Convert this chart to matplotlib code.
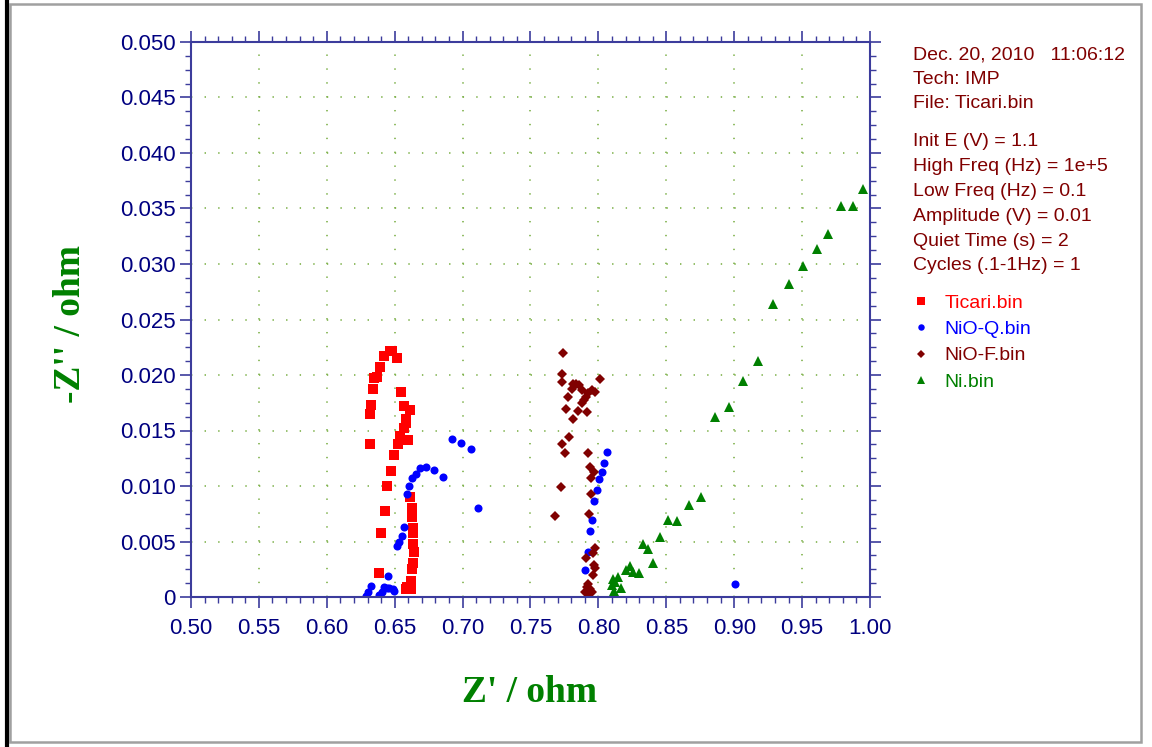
import matplotlib
matplotlib.use('Agg')
import matplotlib.pyplot as plt
from matplotlib.ticker import MultipleLocator, FuncFormatter
from matplotlib.patches import Rectangle
from matplotlib.lines import Line2D

# Ticari.bin (red squares)
ticari_x = [0.6465, 0.6480, 0.6517, 0.6419, 0.6390, 0.6367, 0.6348, 0.6338, 0.6328,
            0.6318, 0.6320, 0.6546, 0.6568, 0.6610, 0.6585, 0.6583, 0.6566, 0.6541,
            0.6522, 0.6600, 0.6495, 0.6471, 0.6446, 0.6615, 0.6625, 0.6625, 0.6625,
            0.6426, 0.6635, 0.6635, 0.6399, 0.6633, 0.6642, 0.6635, 0.6627, 0.6382,
            0.6618, 0.6591, 0.6613, 0.6583, 0.6620]
ticari_y = [0.02219, 0.02220, 0.02153, 0.02171, 0.02072, 0.01982, 0.01976, 0.01874, 0.01730,
            0.01651, 0.01376, 0.01850, 0.01723, 0.01682, 0.01601, 0.01570, 0.01525, 0.01453,
            0.01381, 0.01414, 0.01277, 0.01135, 0.00997, 0.00898, 0.00802, 0.00766, 0.00721,
            0.00777, 0.00622, 0.00577, 0.00579, 0.00475, 0.00403, 0.00304, 0.00250, 0.00219,
            0.00147, 0.00093, 0.00093, 0.00075, 0.00072]

# NiO-Q.bin (blue circles)
nioq_x = [0.6920, 0.6988, 0.7060, 0.6733, 0.6686, 0.6789, 0.6655, 0.6627, 0.6856,
          0.6608, 0.6591, 0.7113, 0.6568, 0.6551, 0.6534, 0.6519, 0.6451, 0.6323,
          0.6306, 0.6289, 0.6424, 0.6441, 0.6460, 0.6485, 0.6497, 0.6405, 0.6388,
          0.8063, 0.8039, 0.8024, 0.8007, 0.7990, 0.7970, 0.7951, 0.7936, 0.7921,
          0.7904, 0.9009]
nioq_y = [0.01423, 0.01390, 0.01330, 0.01174, 0.01159, 0.01144, 0.01108, 0.01069, 0.01084,
          0.01000, 0.00925, 0.00799, 0.00633, 0.00552, 0.00498, 0.00459, 0.00192, 0.00099,
          0.00048, 0.00012, 0.00093, 0.00078, 0.00084, 0.00070, 0.00054, 0.00048, 0.00018,
          0.01306, 0.01205, 0.01123, 0.01060, 0.00964, 0.00862, 0.00694, 0.00592, 0.00405,
          0.00241, 0.00114]

# NiO-F.bin (dark red diamonds)
niof_x = [0.7742, 0.7735, 0.7730, 0.7815, 0.7835, 0.7855, 0.7803, 0.7877, 0.8014,
          0.7975, 0.7951, 0.7926, 0.7909, 0.7895, 0.7880, 0.7778, 0.7761, 0.7852,
          0.7918, 0.7811, 0.7786, 0.7730, 0.7754, 0.7926, 0.7938, 0.7968, 0.7946,
          0.7722, 0.7948, 0.7680, 0.7931, 0.7975, 0.7962, 0.7909, 0.7968, 0.7975,
          0.7962, 0.7926, 0.7914, 0.7938, 0.7901, 0.7950, 0.7926]
niof_y = [0.02201, 0.02006, 0.01934, 0.01922, 0.01919, 0.01913, 0.01874, 0.01865, 0.01961,
          0.01850, 0.01865, 0.01835, 0.01805, 0.01775, 0.01751, 0.01805, 0.01696, 0.01678,
          0.01669, 0.01601, 0.01444, 0.01378, 0.01295, 0.01295, 0.01174, 0.01129, 0.01075,
          0.00994, 0.00928, 0.00732, 0.00745, 0.00439, 0.00399, 0.00354, 0.00288, 0.00259,
          0.00198, 0.00120, 0.00090, 0.00075, 0.00045, 0.00045, 0.00030]

# Ni.bin (green triangles)
ni_x = [0.9948, 0.9784, 0.9873, 0.9688, 0.9607, 0.9509, 0.9403, 0.9288, 0.9178,
        0.9067, 0.8964, 0.8859, 0.8753, 0.8669, 0.8581, 0.8510, 0.8454, 0.8326,
        0.8368, 0.8402, 0.8233, 0.8201, 0.8257, 0.8299, 0.8147, 0.8105, 0.8122,
        0.8098, 0.8166, 0.8117]
ni_y = [0.03676, 0.03523, 0.03523, 0.03270, 0.03135, 0.02979, 0.02823, 0.02637, 0.02129,
        0.01949, 0.01709, 0.01624, 0.00898, 0.00826, 0.00685, 0.00694, 0.00538, 0.00475,
        0.00430, 0.00304, 0.00279, 0.00243, 0.00228, 0.00219, 0.00183, 0.00159, 0.00138,
        0.00108, 0.00078, 0.00057]

header_lines = ["Dec. 20, 2010   11:06:12", "Tech: IMP", "File: Ticari.bin"]
param_lines = ["Init E (V) = 1.1", "High Freq (Hz) = 1e+5", "Low Freq (Hz) = 0.1",
               "Amplitude (V) = 0.01", "Quiet Time (s) = 2", "Cycles (.1-1Hz) = 1"]

plt.rcParams['font.family'] = ['Liberation Sans', 'DejaVu Sans']
plt.rcParams['lines.scale_dashes'] = False

axis_col = '#3c3c9c'
label_col = '#000080'
text_col = '#800000'
grid_col = '#7fb24c'

fig = plt.figure(figsize=(11.52, 7.47), dpi=100)
ax = fig.add_axes([191 / 1152, 1 - 597 / 747, 679 / 1152, 555 / 747])

ax.plot(ticari_x, ticari_y, 's', color='#ff0000', ms=6.5, mew=0, label='Ticari.bin')
ax.plot(nioq_x, nioq_y, 'o', color='#0000ff', ms=5.8, mew=0, label='NiO-Q.bin')
ax.plot(niof_x, niof_y, 'D', color='#800000', ms=5.2, mew=0, label='NiO-F.bin')
ax.plot(ni_x, ni_y, '^', color='#008000', ms=6.8, mew=0, label='Ni.bin')

ax.set_xlim(0.5, 1.0)
ax.set_ylim(0, 0.05)
ax.xaxis.set_major_locator(MultipleLocator(0.05))
ax.xaxis.set_minor_locator(MultipleLocator(0.01))
ax.yaxis.set_major_locator(MultipleLocator(0.005))
ax.yaxis.set_minor_locator(MultipleLocator(0.00125))
ax.xaxis.set_major_formatter(FuncFormatter(lambda v, p: f'{v:.2f}'))
ax.yaxis.set_major_formatter(FuncFormatter(lambda v, p: '0' if abs(v) < 1e-9 else f'{v:.3f}'))

ax.tick_params(which='both', direction='out', colors=axis_col, labelcolor=label_col,
               top=True, right=True, labeltop=False, labelright=False, labelsize=16)
ax.tick_params(which='major', length=8, width=1.2)
ax.tick_params(which='minor', length=4.5, width=1.0)
ax.tick_params(axis='x', which='major', pad=7)
ax.tick_params(axis='y', which='major', pad=3)
for s in ax.spines.values():
    s.set_color(axis_col)
    s.set_linewidth(1.5)

ax.set_axisbelow(True)
ax.xaxis.grid(True, which='major', color=grid_col, lw=1.2, linestyle=(0, (1, 8.99)))
ax.yaxis.grid(True, which='major', color=grid_col, lw=1.2, linestyle=(0, (1, 8.78)))

fig.text(530 / 1152, 1 - 693 / 747, "Z' / ohm", color='#008000', fontsize=27,
         fontweight='bold', family='Liberation Serif', ha='center', va='center')
fig.text(70 / 1152, 1 - 324 / 747, "-Z'' / ohm", color='#008000', fontsize=27,
         fontweight='bold', family='Liberation Serif', ha='center', va='center',
         rotation=90)

tx = 913 / 1152
for i, line in enumerate(header_lines):
    fig.text(tx, 1 - (55 + 24.5 * i) / 747, line, color=text_col, fontsize=14, va='center')
for i, line in enumerate(param_lines):
    fig.text(tx, 1 - (142 + 24.8 * i) / 747, line, color=text_col, fontsize=14, va='center')

leg = ax.legend(loc='upper left', bbox_to_anchor=(915 / 1152, 1 - 294 / 747),
                bbox_transform=fig.transFigure, frameon=False, fontsize=14,
                handlelength=0.6, handletextpad=0.9, labelspacing=0.45,
                markerscale=0.8, borderpad=0, borderaxespad=0,
                labelcolor='markerfacecolor')

# window frame
fig.patches.append(Rectangle((10 / 1152, 1 - 742 / 747), 1131 / 1152, 738 / 747,
                             transform=fig.transFigure, fill=False,
                             edgecolor='#a0a0a0', lw=1.8))
fig.lines.append(Line2D([7 / 1152, 7 / 1152], [0, 1], transform=fig.transFigure,
                        color='black', lw=3))

fig.savefig('out.png', dpi=100)
